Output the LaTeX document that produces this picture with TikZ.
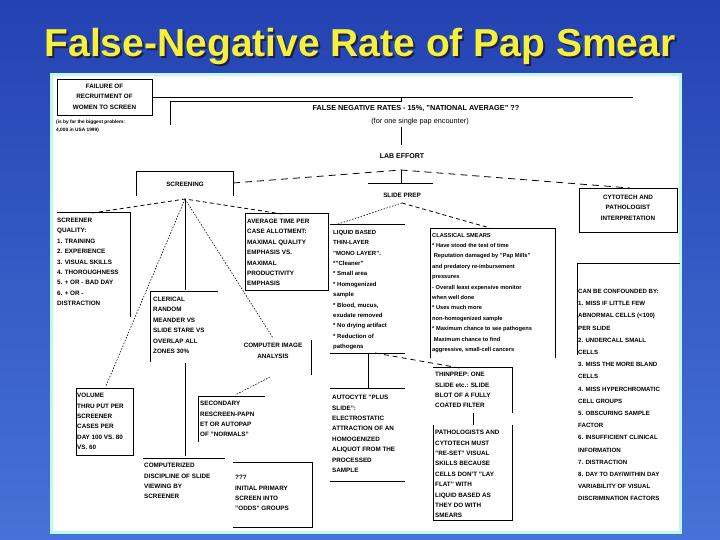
\documentclass[tikz,border=0pt]{standalone}
\usepackage{fontspec}
\setmainfont{Liberation Sans}
\begin{document}
\begin{tikzpicture}[x=1pt,y=-1pt,
  t/.style={anchor=north west,align=left,inner sep=0pt,font=\fontsize{6.3}{10.4}\selectfont\bfseries},
  tc/.style={anchor=north,align=center,inner sep=0pt,font=\fontsize{6.3}{10.4}\selectfont\bfseries},
  ln/.style={line width=0.8pt},
  dsh/.style={line width=0.8pt,dash pattern=on 7pt off 5pt},
  dot/.style={line width=0.6pt,dash pattern=on 1.5pt off 1.5pt}]
\useasboundingbox (0,0) rectangle (720,540);
\shade[top color={rgb,255:red,36;green,66;blue,178},bottom color={rgb,255:red,70;green,115;blue,215}] (0,0) rectangle (720,540);
\fill[white,draw={rgb,255:red,190;green,250;blue,240},line width=3pt] (51,75) rectangle (680,532);
\node[font=\fontsize{39}{40}\selectfont\bfseries,text={rgb,255:red,30;green,30;blue,70}] (titleshadow) at (362,49) {False-Negative Rate of Pap Smear};
\node[font=\fontsize{39}{40}\selectfont\bfseries,text={rgb,255:red,245;green,240;blue,60}] (title) at (360,47) {False-Negative Rate of Pap Smear};
\draw[ln] (57,79) rectangle (152,115);
\node[tc] (fail) at (104.5,84) {FAILURE OF\\RECRUITMENT OF\\WOMEN TO SCREEN};
\node[t,font=\fontsize{4.8}{8}\selectfont\bfseries] (failnote) at (56,120) {(is by far the biggest problem:\\4,000 in USA 1999)};
\coordinate (fr) at (152,97);
\draw[ln] (fr) -- (633,97);
\draw[ln] (170,125) -- (170,101) -- (401,101) -- (401,97);
\node[font=\fontsize{7.3}{9}\selectfont\bfseries] (fn) at (416,109) {FALSE NEGATIVE RATES - 15\%, "NATIONAL AVERAGE" ??};
\node[font=\fontsize{7.3}{9}\selectfont] (fn2) at (420,122) {(for one single pap encounter)};
\draw[ln] (401,127) -- (401,145);
\node[font=\fontsize{7}{9}\selectfont\bfseries] (lab) at (402,156) {LAB EFFORT};
\coordinate (apex) at (401,170);
\draw[dsh] (233,183) -- (apex) -- (630,188);
\draw[ln] (apex) -- (401,183);
\draw[ln] (368,183) -- (433,183);
\node[font=\fontsize{6.3}{8}\selectfont\bfseries] (sp) at (402,195) {SLIDE PREP};
\draw[ln] (136,196) -- (136,171) -- (233,171) -- (233,196);
\node[font=\fontsize{6.3}{8}\selectfont\bfseries] (scr) at (185,184) {SCREENING};
\coordinate (sa) at (185,199);
\draw[dsh,dash pattern=on 4pt off 3pt] (92,213) -- (sa) -- (282,214);
\draw[ln] (sa) -- (185,290);
\draw[dot] (sa) -- (106,386);
\draw[dot] (sa) -- (273,338);
\draw[ln] (185,363) -- (185,456);
\draw[ln] (57,212) -- (130,212) -- (130,317);
\node[t] (sq) at (57,218) {SCREENER\\QUALITY:\\1. TRAINING\\2. EXPERIENCE\\3. VISUAL SKILLS\\4. THOROUGHNESS\\5. + OR - BAD DAY\\6. + OR -\\DISTRACTION};
\draw[ln] (245,213) rectangle (328,290);
\node[t] (avg) at (247,219) {AVERAGE TIME PER\\CASE ALLOTMENT:\\MAXIMAL QUALITY\\EMPHASIS VS.\\MAXIMAL\\PRODUCTIVITY\\EMPHASIS};
\draw[ln] (218,291) -- (150,291) -- (150,362);
\node[t] (cler) at (153,297) {CLERICAL\\RANDOM\\MEANDER VS\\SLIDE STARE VS\\OVERLAP ALL\\ZONES 30\%};
\node[tc] (cia) at (273,343) {COMPUTER IMAGE\\ANALYSIS};
\draw[ln] (311,340) -- (311,375);
\draw[dot] (270,377) -- (235,395);
\draw[ln] (265,396) -- (198,396) -- (198,442);
\node[t] (sec) at (200,401) {SECONDARY\\RESCREEN-PAPN\\ET OR AUTOPAP\\OF "NORMALS"};
\draw[ln] (76,388) rectangle (133,455);
\node[t] (vol) at (77,393) {VOLUME\\THRU PUT PER\\SCREENER\\CASES PER\\DAY 100 VS. 80\\VS. 60};
\draw[ln] (143,458) -- (225,458);
\node[t] (comp) at (144,463) {COMPUTERIZED\\DISCIPLINE OF SLIDE\\VIEWING BY\\SCREENER};
\draw[ln] (233,462) -- (312,462) -- (312,527) -- (233,527);
\node[t] (odds) at (235,475) {???\\INITIAL PRIMARY\\SCREEN INTO\\"ODDS" GROUPS};
\coordinate (spa) at (402,203);
\draw[dot] (spa) -- (335,225);
\draw[dsh,dash pattern=on 4pt off 3pt] (spa) -- (490,228);
\draw[ln] (330,224) -- (405,224);
\node[t,font=\fontsize{6}{10.4}\selectfont\bfseries] (liq) at (333,230) {LIQUID BASED\\THIN-LAYER\\ "MONO LAYER".\\*"Cleaner"\\* Small area\\* Homogenized\\sample\\* Blood, mucus,\\exudate removed\\* No drying artifact\\* Reduction of\\pathogens};
\draw[ln] (330,353) -- (405,353);
\draw[ln] (368,353) -- (368,388);
\draw[ln] (330,388) -- (405,388);
\draw[dsh,dash pattern=on 5pt off 4pt] (375,353) -- (460,368);
\node[t] (auto) at (332,395) {AUTOCYTE "PLUS\\SLIDE":\\ELECTROSTATIC\\ATTRACTION OF AN\\HOMOGENIZED\\ALIQUOT FROM THE\\PROCESSED\\SAMPLE};
\draw[ln] (330,481) -- (405,481);
\draw[ln] (430,358) -- (430,228) -- (555,228) -- (555,358);
\node[t,font=\fontsize{5.7}{10.4}\selectfont\bfseries] (cls) at (432,233) {CLASSICAL SMEARS\\* Have stood the test of time\\ \ Reputation damaged by "Pap Mills"\\and predatory re-imbursement\\pressures\\- Overall least expensive monitor\\when well done\\* Uses much more\\non-homogenized sample\\* Maximum chance to see pathogens\\ \ Maximum chance to find\\aggressive, small-cell cancers};
\draw[ln] (433,367) -- (512,367) -- (512,413);
\node[t] (thin) at (435,372) {THINPREP: ONE\\SLIDE etc.: SLIDE\\BLOT OF A FULLY\\COATED FILTER};
\draw[ln] (473,413) -- (473,425);
\draw[ln] (433,425) -- (433,520) -- (512,520) -- (512,425);
\node[t] (path) at (435,430) {PATHOLOGISTS AND\\CYTOTECH MUST\\"RE-SET" VISUAL\\SKILLS BECAUSE\\CELLS DON'T "LAY\\FLAT" WITH\\LIQUID BASED AS\\THEY DO WITH\\SMEARS};
\draw[ln] (579,188) rectangle (677,232);
\node[tc] (cyto) at (628,195) {CYTOTECH AND\\PATHOLOGIST\\INTERPRETATION};
\draw[ln] (680,263) -- (577,263) -- (577,355);
\node[t,font=\fontsize{6.1}{12.2}\selectfont\bfseries] (conf) at (578,289) {CAN BE CONFOUNDED BY:\\1. MISS IF LITTLE FEW\\ABNORMAL CELLS (<100)\\PER SLIDE\\2. UNDERCALL SMALL\\CELLS\\3. MISS THE MORE BLAND\\CELLS\\4. MISS HYPERCHROMATIC\\CELL GROUPS\\5. OBSCURING SAMPLE\\FACTOR\\6. INSUFFICIENT CLINICAL\\INFORMATION\\7. DISTRACTION\\8. DAY TO DAY/WITHIN DAY\\VARIABILITY OF VISUAL\\DISCRIMINATION FACTORS};
\end{tikzpicture}
\end{document}
